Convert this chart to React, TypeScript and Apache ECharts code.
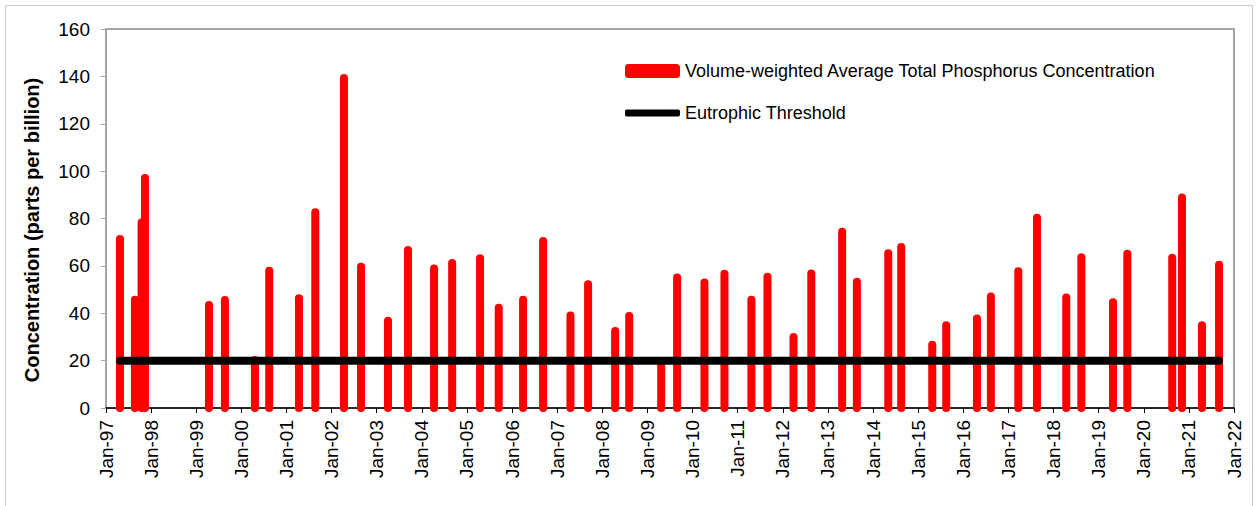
import React, { useEffect, useRef } from "react";
import * as echarts from "echarts";

// Sampling dates (YYYY-MM-DD)
const sampleDates: string[] = [
  "1997-04-24", "1997-08-23", "1997-10-16", "1997-11-12",
  "1999-04-14", "1999-08-21",
  "2000-04-20", "2000-08-14",
  "2001-04-12", "2001-08-22",
  "2002-04-11", "2002-08-27",
  "2003-04-02", "2003-09-11",
  "2004-04-09", "2004-09-03",
  "2005-04-17", "2005-09-15",
  "2006-03-31", "2006-09-09",
  "2007-04-18", "2007-09-08",
  "2008-04-14", "2008-08-06",
  "2009-04-22", "2009-08-29",
  "2010-04-07", "2010-09-16",
  "2011-04-22", "2011-08-30",
  "2012-03-28", "2012-08-19",
  "2013-04-26", "2013-08-23",
  "2014-05-04", "2014-08-17",
  "2015-04-25", "2015-08-16",
  "2016-04-21", "2016-08-12",
  "2017-03-22", "2017-08-20",
  "2018-04-14", "2018-08-14",
  "2019-04-27", "2019-08-21",
  "2020-08-19", "2020-11-06",
  "2021-04-17", "2021-09-02",
];

// Volume-weighted average total phosphorus concentration (ppb)
const phosphorus: number[] = [
  71.3, 45.7, 78.3, 97.1,
  43.5, 45.6,
  20.3, 57.9,
  46.3, 82.6,
  139.3, 59.6,
  36.8, 66.7,
  58.9, 61.2,
  63.2, 42.3,
  45.7, 70.5,
  39.0, 52.2,
  32.5, 38.8,
  19.7, 55.1,
  53.0, 56.7,
  45.7, 55.4,
  30.0, 56.8,
  74.4, 53.3,
  65.3, 68.0,
  26.7, 34.9,
  37.8, 47.1,
  57.7, 80.3,
  46.7, 63.6,
  44.6, 65.1,
  63.4, 88.9,
  34.9, 60.5,
];

const eutrophicThreshold = 20;
const xAxisStartYear = 1997;
const xAxisEndYear = 2022;
const yTicks: number[] = [0, 20, 40, 60, 80, 100, 120, 140, 160];

const barName = "Volume-weighted Average Total Phosphorus Concentration";
const lineName = "Eutrophic Threshold";
const yTitle = "Concentration (parts per billion)";

function toDecimalYear(d: string): number {
  const [y, m, day] = d.split("-").map(Number);
  const start = Date.UTC(y, 0, 1);
  const end = Date.UTC(y + 1, 0, 1);
  return y + (Date.UTC(y, m - 1, day) - start) / (end - start);
}

const FONT = "'Liberation Sans', Arial, sans-serif";

export default function App() {
  const ref = useRef<HTMLDivElement>(null);
  useEffect(() => {
    if (!ref.current) return;
    const chart = echarts.init(ref.current, null, { renderer: "svg" });
    const barData = sampleDates.map((d, i) => [toDecimalYear(d), phosphorus[i]]);
    const lineData = [
      [toDecimalYear(sampleDates[0]), eutrophicThreshold],
      [toDecimalYear(sampleDates[sampleDates.length - 1]), eutrophicThreshold],
    ];
    chart.setOption({
      animation: false,
      backgroundColor: "#ffffff",
      textStyle: { fontFamily: FONT },
      grid: {
        left: 106,
        top: 29,
        right: 25,
        bottom: 98,
        show: true,
        borderColor: "#a6a6a6",
        borderWidth: 2,
        backgroundColor: "transparent",
      },
      legend: [
        {
          data: [barName],
          left: 625,
          top: 62,
          padding: 0,
          orient: "vertical",
          icon: "roundRect",
          itemWidth: 55,
          itemHeight: 14,
          textStyle: { fontSize: 18, color: "#000", fontFamily: FONT },
          selectedMode: false,
        },
        {
          data: [lineName],
          left: 625,
          top: 104,
          padding: 0,
          orient: "vertical",
          icon: "roundRect",
          itemWidth: 55,
          itemHeight: 7,
          textStyle: { fontSize: 18, color: "#000", fontFamily: FONT },
          selectedMode: false,
        },
      ],
      xAxis: {
        type: "value",
        min: xAxisStartYear,
        max: xAxisEndYear,
        interval: 1,
        axisLine: { show: true, lineStyle: { color: "#000", width: 1.5 } },
        axisTick: { show: true, length: 5, inside: false, lineStyle: { color: "#000" } },
        splitLine: { show: false },
        axisLabel: {
          rotate: 90,
          margin: 12,
          fontSize: 19,
          color: "#000",
          fontFamily: FONT,
          formatter: (v: number) => "Jan-" + String(Math.round(v) % 100).padStart(2, "0"),
        },
      },
      yAxis: {
        type: "value",
        min: yTicks[0],
        max: yTicks[yTicks.length - 1],
        interval: 20,
        axisLine: { show: false },
        axisTick: { show: true, length: 5, lineStyle: { color: "#a6a6a6" } },
        splitLine: { show: false },
        axisLabel: { fontSize: 19, color: "#000", margin: 16, fontFamily: FONT },
      },
      graphic: [
        {
          type: "rect",
          shape: { x: 5.5, y: 5.5, width: 1247, height: 520 },
          style: { fill: "none", stroke: "#c8c8c8", lineWidth: 1 },
          silent: true,
          z: -10,
        },
        {
          type: "text",
          x: 32,
          y: 230,
          rotation: Math.PI / 2,
          style: {
            text: yTitle,
            fontSize: 20,
            fontWeight: "bold",
            fontFamily: FONT,
            fill: "#000",
            align: "center",
            verticalAlign: "middle",
          },
        },
      ],
      series: [
        {
          name: barName,
          type: "custom",
          data: barData,
          itemStyle: { color: "#ff0000" },
          z: 2,
          renderItem: (params: any, api: any) => {
            const x = api.value(0);
            const y = api.value(1);
            const p0 = api.coord([x, 0]);
            const p1 = api.coord([x, y]);
            return {
              type: "line",
              shape: { x1: p0[0], y1: p0[1], x2: p1[0], y2: p1[1] },
              style: { stroke: "#ff0000", lineWidth: 8, lineCap: "round" },
            };
          },
        },
        {
          name: lineName,
          type: "line",
          data: lineData,
          symbol: "none",
          itemStyle: { color: "#000" },
          lineStyle: { color: "#000", width: 8, cap: "round" },
          z: 5,
        },
      ],
    });
    return () => chart.dispose();
  }, []);
  return (
    <div
      ref={ref}
      style={{ position: "fixed", left: 0, top: 0, width: 1259, height: 506, background: "#fff" }}
    />
  );
}
